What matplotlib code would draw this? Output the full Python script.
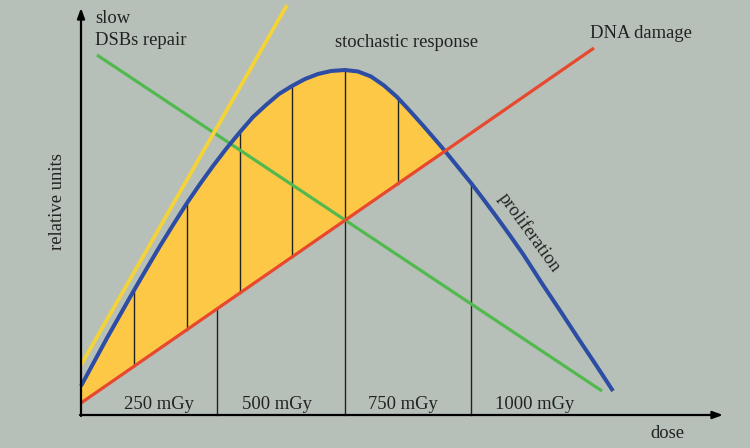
import numpy as np
import matplotlib
matplotlib.use("Agg")
import matplotlib.pyplot as plt

# ---- data (x = dose units, y = relative units) ----
blue_x = [0, 13, 26, 39, 52, 66, 79, 92, 106, 119, 132, 145, 159, 172, 185, 198, 211,
          224, 237, 250, 264, 277, 290, 303, 316, 329, 342, 355, 364, 377, 390,
          403, 416, 429, 442, 462, 480, 497, 515, 532]
blue_y = [29, 53, 77, 100, 123, 147, 169, 190, 212, 231, 249, 266, 283, 298, 310, 321, 329,
          336, 341, 344, 345, 343.5, 338.5, 329.5, 318, 304, 289.5, 274.5, 264, 248, 232,
          215, 197.5, 179.5, 161, 130, 103, 77, 50, 24]
red_x = [0, 513]
red_y = [12, 367]
green_x = [16, 521]
green_y = [360, 24]
yellow_x = [0, 206]
yellow_y = [50, 410]
bin_edges = [136, 264, 390]
bin_edge_top = ["red", "blue", "blue"]
hatch_x = [53, 106, 159, 211, 317]
dose_labels = ["250 mGy", "500 mGy", "750 mGy", "1000 mGy"]

# ---- layout ----
dose_label_x = [78.5, 196, 322, 454]
BG = "#b6c0b8"
C_FILL = "#fdc846"
C_BLUE = "#2c4da3"
C_RED = "#e8482d"
C_GREEN = "#52b94f"
C_YEL = "#f3d23a"
TXT = "#222222"
FONT = "Liberation Serif"
FS = 13.4

fig = plt.figure(figsize=(7.5, 4.48), dpi=100)
fig.patch.set_facecolor(BG)
ax = fig.add_axes([0, 0, 1, 1])
ax.set_facecolor(BG)
ax.set_xlim(-81, 669)
ax.set_ylim(-33, 415)
ax.axis("off")

bx = np.array(blue_x, float)
by = np.array(blue_y, float)
red_on_blue = np.interp(bx, red_x, red_y)

ax.fill_between(bx, red_on_blue, by, where=by >= red_on_blue, interpolate=True,
                color=C_FILL, lw=0, zorder=1)

def red_at(x):
    return float(np.interp(x, red_x, red_y))

def blue_at(x):
    return float(np.interp(x, bx, by))

for x in hatch_x:
    ax.plot([x, x], [red_at(x), blue_at(x)], color=TXT, lw=1.0, zorder=2)
for x, top in zip(bin_edges, bin_edge_top):
    yt = red_at(x) if top == "red" else blue_at(x)
    ax.plot([x, x], [0, yt], color=TXT, lw=1.0, zorder=2)

ax.plot(green_x, green_y, color=C_GREEN, lw=2.3, zorder=3, solid_capstyle="butt")
ax.plot(bx, by, color=C_BLUE, lw=2.9, zorder=4, solid_capstyle="butt",
        solid_joinstyle="round")
ax.plot(red_x, red_y, color=C_RED, lw=2.3, zorder=5, solid_capstyle="butt")
ax.plot(yellow_x, yellow_y, color=C_YEL, lw=2.8, zorder=6, solid_capstyle="butt")

# axes with arrows
ax.annotate("", xy=(0, 407), xytext=(0, -1),
            arrowprops=dict(arrowstyle="-|>,head_length=0.6,head_width=0.22",
                            color="black", lw=1.6, shrinkA=0, shrinkB=0), zorder=7)
ax.annotate("", xy=(642, 0), xytext=(-1, 0),
            arrowprops=dict(arrowstyle="-|>,head_length=0.6,head_width=0.22",
                            color="black", lw=1.6, shrinkA=0, shrinkB=0), zorder=7)

kw = dict(family=FONT, fontsize=FS, color=TXT)
ax.text(14, 392, "slow", ha="left", va="baseline", **kw)
ax.text(14, 370, "DSBs repair", ha="left", va="baseline", **kw)
ax.text(254, 368, "stochastic response", ha="left", va="baseline", **kw)
ax.text(509, 377, "DNA damage", ha="left", va="baseline", **kw)
ax.text(448, 182, "proliferation", ha="center", va="center", rotation=-54,
        rotation_mode="anchor", **kw)
ax.text(-24, 213, "relative units", ha="center", va="center", rotation=90, **kw)
ax.text(569, -23, "dose", ha="left", va="baseline", **kw)
for lx, lab in zip(dose_label_x, dose_labels):
    ax.text(lx, 6, lab, ha="center", va="baseline", **kw)

fig.savefig("out.png", dpi=100, facecolor=BG)
